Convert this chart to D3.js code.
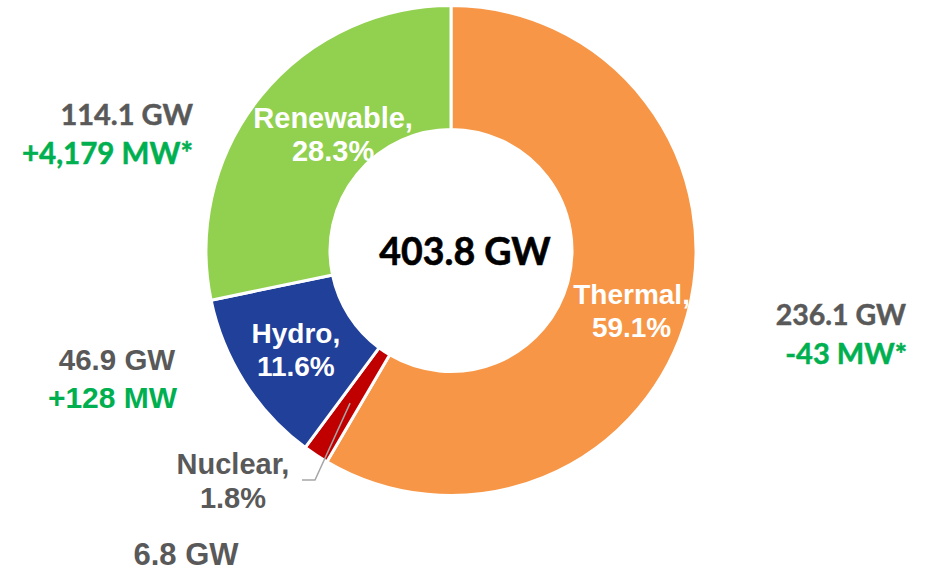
<!DOCTYPE html>
<html>
<head>
<meta charset="utf-8">
<script src="https://cdn.jsdelivr.net/npm/d3@7"></script>
<style>
  html, body { margin: 0; padding: 0; background: #ffffff; }
  svg { display: block; }
</style>
</head>
<body>
<svg id="chart" width="936" height="573"></svg>
<script>
// Installed capacity by source
const categories = ["Thermal", "Nuclear", "Hydro", "Renewable"];
const capacityGW = [236.1, 6.8, 46.9, 114.1];
const shareLabels = ["59.1%", "1.8%", "11.6%", "28.3%"];
const capacityLabels = ["236.1 GW", "6.8 GW", "46.9 GW", "114.1 GW"];
const changeLabels = ["-43 MW*", "", "+128 MW", "+4,179 MW*"];
const totalLabel = "403.8 GW";

const colors = {
  Thermal: "#F79646",
  Nuclear: "#C00000",
  Hydro: "#21409A",
  Renewable: "#92D050"
};

const svg = d3.select("#chart");
const cx = 451, cy = 250.5;
const outerR = 245, innerR = 121;

const data = categories.map((c, i) => ({
  name: c, value: capacityGW[i], share: shareLabels[i],
  cap: capacityLabels[i], change: changeLabels[i]
}));

const pie = d3.pie().value(d => d.value).sort(null)
  .startAngle(0).endAngle(2 * Math.PI);
const arcs = pie(data);
const arc = d3.arc().innerRadius(innerR).outerRadius(outerR);
const labelArc = d3.arc().innerRadius(183).outerRadius(183);

const g = svg.append("g").attr("transform", `translate(${cx},${cy})`);

g.selectAll("path.slice")
  .data(arcs)
  .join("path")
  .attr("class", "slice")
  .attr("d", arc)
  .attr("fill", d => colors[d.data.name])
  .attr("stroke", "#ffffff")
  .attr("stroke-width", 3)
  .attr("stroke-linejoin", "miter");

// In-slice labels (white, two lines)
const nudge = { Thermal: [4, 5], Renewable: [24, -7], Hydro: [-1, -6] };
const inFont = "'Liberation Sans', Arial, sans-serif";
arcs.filter(d => nudge[d.data.name]).forEach(d => {
  const [x, y] = labelArc.centroid(d);
  const [dx, dy] = nudge[d.data.name];
  const t = g.append("text")
    .attr("text-anchor", "middle")
    .attr("font-family", inFont)
    .attr("font-weight", "bold")
    .attr("font-size", d.data.name === "Renewable" ? 29 : 28)
    .attr("fill", "#ffffff");
  t.append("tspan").attr("x", x + dx).attr("y", y + dy).text(d.data.name + ",");
  t.append("tspan").attr("x", x + dx).attr("y", y + dy + 33).text(d.data.share);
});

// Nuclear label outside with leader line
const nuc = arcs.find(d => d.data.name === "Nuclear");
const [nx, ny] = labelArc.centroid(nuc);
g.append("path")
  .attr("d", d3.line()([[nx, ny], [315 - cx, 480 - cy], [302 - cx, 480 - cy]]))
  .attr("fill", "none")
  .attr("stroke", "#A6A6A6")
  .attr("stroke-width", 1.5);

const nt = svg.append("text")
  .attr("text-anchor", "middle")
  .attr("font-family", inFont)
  .attr("font-weight", "bold")
  .attr("font-size", 29)
  .attr("fill", "#595959");
nt.append("tspan").attr("x", 233).attr("y", 474).text(nuc.data.name + ",");
nt.append("tspan").attr("x", 233).attr("y", 508).text(nuc.data.share);

// Centre total
svg.append("text")
  .attr("x", 465).attr("y", 265)
  .attr("text-anchor", "middle")
  .attr("font-family", "Lato, 'Open Sans', sans-serif")
  .attr("font-weight", "bold")
  .attr("font-size", 37.5)
  .attr("fill", "#000000")
  .attr("stroke", "#000000")
  .attr("stroke-width", 0.6)
  .text(totalLabel);

// Capacity and change annotations
const gray = "#595959", green = "#00B050";
const byName = Object.fromEntries(data.map(d => [d.name, d]));
const lato = "Lato, 'Open Sans', sans-serif";

function note(x, y, txt, fill, family, size, anchor, heavy) {
  const t = svg.append("text")
    .attr("x", x).attr("y", y)
    .attr("text-anchor", anchor)
    .attr("font-family", family)
    .attr("font-weight", "bold")
    .attr("font-size", size)
    .attr("fill", fill)
    .text(txt);
  if (heavy) t.attr("stroke", fill).attr("stroke-width", 0.5);
}

note(193, 125, byName.Renewable.cap, gray, lato, 29, "end", true);
note(193, 164, byName.Renewable.change, green, lato, 29.5, "end", true);

note(906, 325, byName.Thermal.cap, gray, lato, 28.5, "end", true);
note(907, 364, byName.Thermal.change, green, lato, 29, "end", true);

note(117, 370, byName.Hydro.cap, gray, inFont, 29.5, "middle");
note(112.5, 408, byName.Hydro.change, green, inFont, 30, "middle");

note(186, 565, byName.Nuclear.cap, gray, inFont, 31, "middle");
</script>
</body>
</html>
